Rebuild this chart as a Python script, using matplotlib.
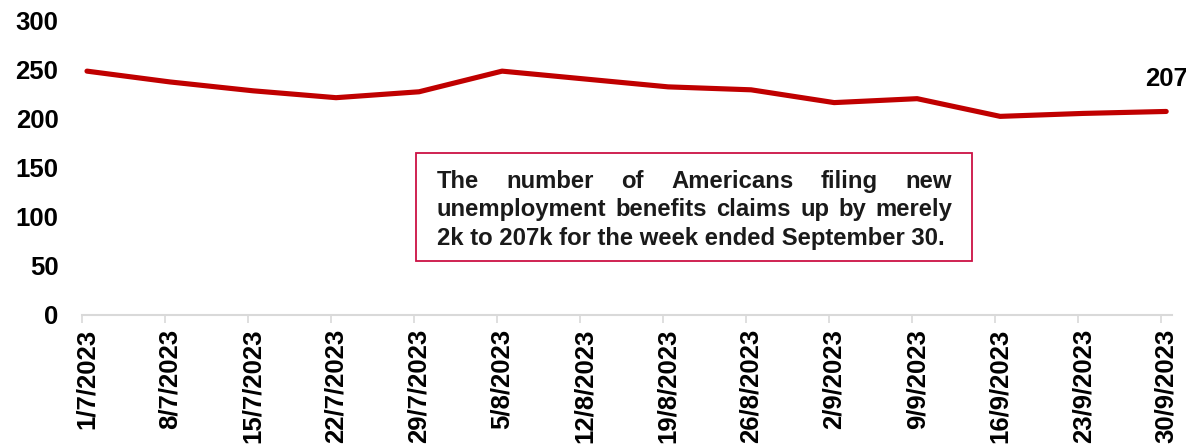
import matplotlib
matplotlib.use("Agg")
import matplotlib.pyplot as plt
import numpy as np

dates = ["1/7/2023", "8/7/2023", "15/7/2023", "22/7/2023", "29/7/2023", "5/8/2023",
         "12/8/2023", "19/8/2023", "26/8/2023", "2/9/2023", "9/9/2023", "16/9/2023",
         "23/9/2023", "30/9/2023"]
claims = [248, 237, 228, 221, 227, 248, 240, 232, 229, 216, 220, 202, 205, 207]
yticks = [0, 50, 100, 150, 200, 250, 300]
note_lines = ["The number of Americans filing new",
              "unemployment benefits claims up by merely",
              "2k to 207k for the week ended September 30."]

plt.rcParams['font.family'] = ['Liberation Sans', 'DejaVu Sans']
plt.rcParams['font.weight'] = 'bold'

W, H = 1186, 448
fig = plt.figure(figsize=(W / 100, H / 100), dpi=100)
ax = fig.add_axes([82 / W, 1 - 315 / H, (1172 - 82) / W, (315 - 20) / H])

x = np.arange(len(dates))
ax.plot(x, claims, color='#c00000', lw=3.7, solid_capstyle='round', solid_joinstyle='round')

ax.set_xlim(-0.06, len(dates) - 1 + 0.07)
ax.set_ylim(0, 300)
ax.set_yticks(yticks)
ax.set_yticklabels([str(v) for v in yticks], fontsize=18.5, fontweight='bold')
ax.tick_params(axis='y', length=0, pad=17)

ax.set_xticks(x)
ax.set_xticklabels(dates, rotation=90, fontsize=18.5, fontweight='bold', va='top', ha='center')
ax.tick_params(axis='x', which='major', length=0, pad=10)
ax.set_xticks(x - 0.06, minor=True)
ax.tick_params(axis='x', which='minor', length=5.5, width=1.2, color='#d9d9d9', direction='out')

for s in ['top', 'right', 'left']:
    ax.spines[s].set_visible(False)
ax.spines['bottom'].set_color('#d9d9d9')
ax.spines['bottom'].set_linewidth(1.5)

# last value label
ax.annotate(str(claims[-1]), (x[-1], claims[-1]), xytext=(0, 25), textcoords='offset pixels',
            ha='center', va='baseline', fontsize=18.5, fontweight='bold', color='black',
            annotation_clip=False)

# note box
from matplotlib.patches import Rectangle
bx0, by0, bx1, by1 = 416, 153, 972, 261
fig.patches.append(Rectangle((bx0 / W, 1 - by1 / H), (bx1 - bx0) / W, (by1 - by0) / H,
                             transform=fig.transFigure, fill=False, edgecolor='#cc1144',
                             lw=1.3))

fig.canvas.draw()
renderer = fig.canvas.get_renderer()
tx0, tx1 = 437, 952
line_y = [181, 209, 238]
fs = 17.2
for li, line in enumerate(note_lines):
    ypix = line_y[li]
    if li < len(note_lines) - 1:
        words = line.split(' ')
        tws = []
        for w in words:
            t = fig.text(0, 0, w, fontsize=fs, fontweight='bold')
            tws.append(t.get_window_extent(renderer).width)
            t.remove()
        gap = (tx1 - tx0 - sum(tws)) / (len(words) - 1)
        cx = tx0
        for w, tw in zip(words, tws):
            fig.text(cx / W, 1 - ypix / H, w, fontsize=fs, fontweight='bold',
                     color='#1a1a1a', ha='left', va='center')
            cx += tw + gap
    else:
        fig.text(tx0 / W, 1 - ypix / H, line, fontsize=fs, fontweight='bold',
                 color='#1a1a1a', ha='left', va='center')

fig.savefig('out.png', dpi=100)
